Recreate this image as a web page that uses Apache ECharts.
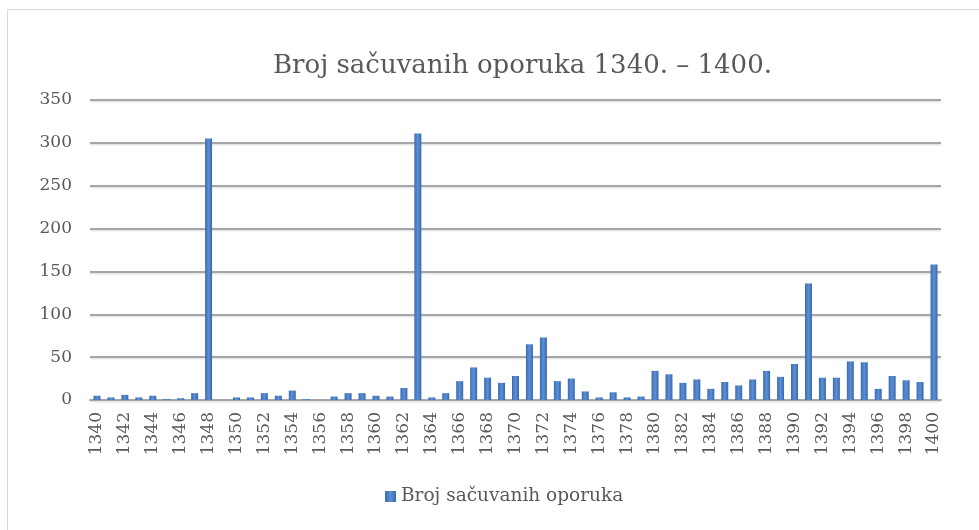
<!DOCTYPE html>
<html>
<head>
<meta charset="utf-8">
<script src="https://cdn.jsdelivr.net/npm/echarts@6/dist/echarts.min.js"></script>
<style>
  html, body { margin: 0; padding: 0; background: #fff; }
  #frame {
    position: absolute; left: 7px; top: 9px; width: 990px; height: 540px;
    border: 1px solid #d9d9d9; box-sizing: border-box;
  }
  #chart { position: absolute; left: 0; top: 0; width: 979px; height: 530px; }
</style>
</head>
<body>
<div id="frame"></div>
<div id="chart"></div>
<script>
// godine 1340 - 1400
let years = [];
for (let y = 1340; y <= 1400; y++) years.push(String(y));

// broj sačuvanih oporuka po godini (očitano sa slike)
let wills = [
  5, 3, 6, 3, 5, 1, 2, 8, 305, 0,
  3, 3, 8, 5, 11, 1, 0, 4, 8, 8,
  5, 4, 14, 311, 3, 8, 22, 38, 26, 20,
  28, 65, 73, 22, 25, 10, 3, 9, 3, 4,
  34, 30, 20, 24, 13, 21, 17, 24, 34, 27,
  42, 136, 26, 26, 45, 44, 13, 28, 23, 21,
  158
];

let yTicks = [0, 50, 100, 150, 200, 250, 300, 350];

let font = "DejaVu Serif";
let chart = echarts.init(document.getElementById("chart"));

let option = {
  animation: false,
  title: {
    text: "Broj sačuvanih oporuka 1340. – 1400.",
    left: 268,
    top: 48,
    textStyle: { fontFamily: font, fontSize: 26, fontWeight: "normal", color: "#595959" },
  },
  legend: {
    bottom: 19,
    left: 380,
    itemWidth: 11,
    itemHeight: 11,
    itemGap: 4,
    icon: "rect",
    textStyle: { fontFamily: font, fontSize: 18.5, color: "#595959" },
  },
  grid: { left: 90, right: 38, top: 100, bottom: 130 },
  xAxis: {
    type: "category",
    data: years,
    axisTick: { show: false },
    axisLine: { lineStyle: { color: "#a6a6a6", width: 2 } },
    axisLabel: {
      interval: 1,
      rotate: 90,
      margin: 12,
      fontFamily: font,
      fontSize: 17,
      color: "#595959",
    },
  },
  yAxis: {
    type: "value",
    min: yTicks[0],
    max: yTicks[yTicks.length - 1],
    interval: 50,
    axisLine: { show: false },
    axisTick: { show: false },
    axisLabel: { margin: 18, fontFamily: font, fontSize: 17, color: "#595959" },
    splitLine: {
      lineStyle: { color: "#a6a6a6", width: 2, shadowColor: "rgba(0,0,0,0.15)", shadowBlur: 2, shadowOffsetY: 1 },
    },
  },
  series: [
    {
      name: "Broj sačuvanih oporuka",
      type: "bar",
      data: wills,
      barWidth: 7,
      itemStyle: {
        color: new echarts.graphic.LinearGradient(0, 0, 1, 0, [
          { offset: 0, color: "#3d6cb0" },
          { offset: 0.5, color: "#5b8fd6" },
          { offset: 1, color: "#3a68aa" },
        ]),
      },
    },
  ],
};

chart.setOption(option);
window.addEventListener("resize", () => {
  chart.resize();
});
</script>
</body>
</html>
